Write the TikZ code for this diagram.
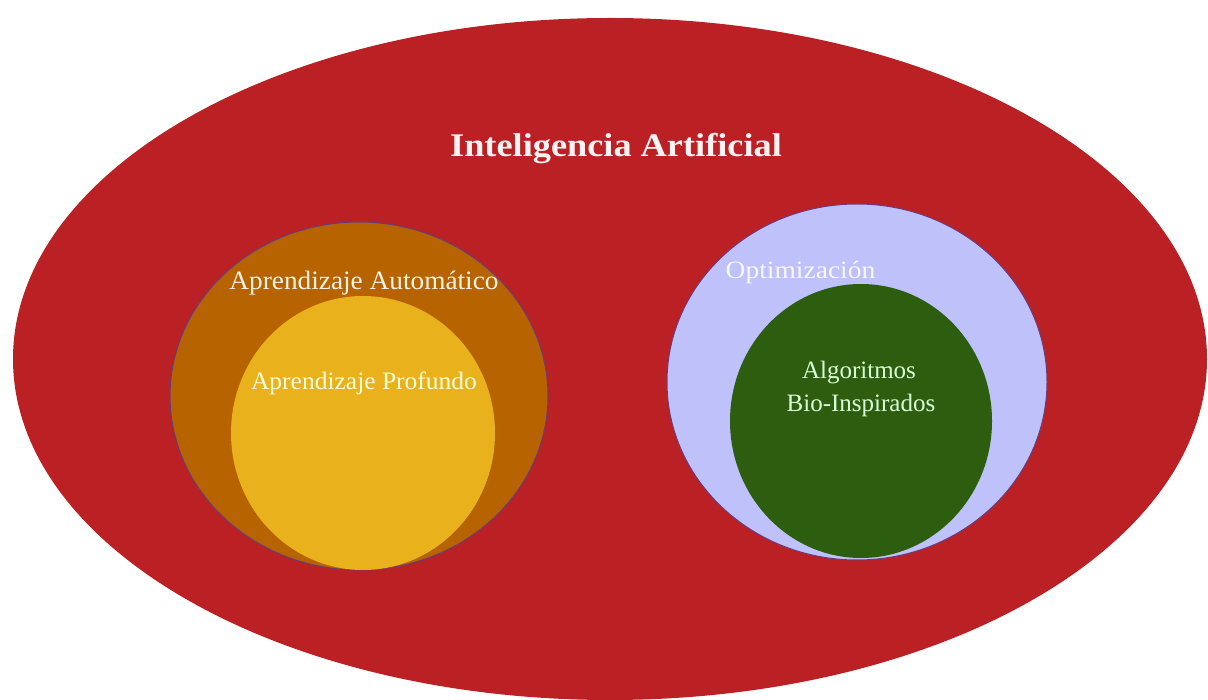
\documentclass[tikz,border=0pt]{standalone}
\usepackage{fontspec}
\setmainfont{Liberation Serif}
\usetikzlibrary{shapes.geometric}
\definecolor{aired}{HTML}{BA2024}
\definecolor{mlorange}{HTML}{B66300}
\definecolor{dlyellow}{HTML}{E9B21D}
\definecolor{optlav}{HTML}{BFC1FB}
\definecolor{biogreen}{HTML}{2D5D0E}
\definecolor{rimpurple}{HTML}{6A3A7A}
\begin{document}
\begin{tikzpicture}[x=1pt,y=-1pt,
  blob/.style={ellipse, inner sep=0pt, draw=none},
  label/.style={anchor=base, inner sep=0pt, align=center}]
\useasboundingbox (0,0) rectangle (1208,700);
\fill[white] (0,0) rectangle (1208,700);
% outer set
\node[blob, fill=aired, minimum width=1194pt, minimum height=682pt] (ia) at (610,359) {};
% machine learning and deep learning
\node[blob, fill=mlorange, draw=rimpurple, line width=1pt, minimum width=378pt, minimum height=348pt] (ml) at (359,396) {};
\node[blob, fill=dlyellow, minimum width=264pt, minimum height=274pt] (dl) at (363,433) {};
% optimisation and bio-inspired algorithms
\node[blob, fill=optlav, draw=rimpurple, line width=1pt, minimum width=380pt, minimum height=356pt] (opt) at (857,382) {};
\node[blob, fill=biogreen, minimum width=262pt, minimum height=274pt] (bio) at (861,421) {};
% labels
\node[label, text=white!95!red, font=\fontsize{33}{38}\selectfont\bfseries] (tia) at (616,157) {\scalebox{1.1}[1]{Inteligencia Artificial}};
\node[label, text=white!90!orange, font=\fontsize{26.5}{31}\selectfont] (tml) at (364,290) {\scalebox{1.03}[1]{Aprendizaje Automático}};
\node[label, text=white!85!yellow, font=\fontsize{25}{30}\selectfont] (tdl) at (364,390) {\scalebox{1.02}[1]{Aprendizaje Profundo}};
\node[label, text=white!97!blue, font=\fontsize{25}{30}\selectfont] (topt) at (800.5,279) {\scalebox{1.1}[1]{Optimización}};
\node[label, text=white!85!green, font=\fontsize{25}{30}\selectfont] (talg) at (859,379) {Algoritmos};
\node[label, text=white!85!green, font=\fontsize{25}{30}\selectfont] (tbio) at (861,412) {Bio-Inspirados};
\end{tikzpicture}
\end{document}
